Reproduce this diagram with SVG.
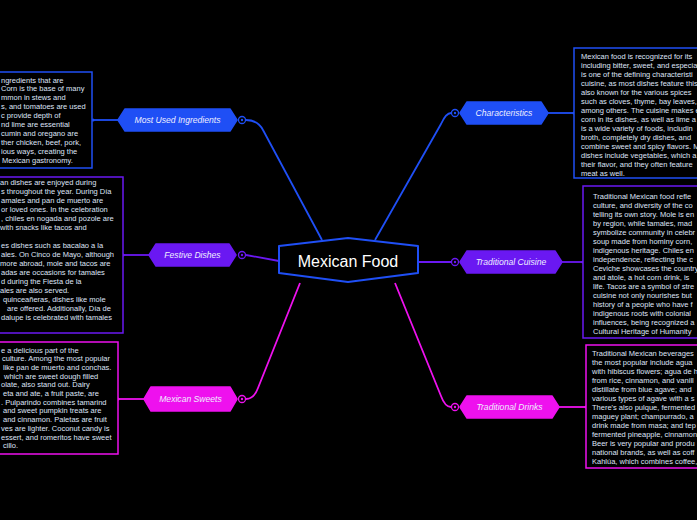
<svg xmlns="http://www.w3.org/2000/svg" width="697" height="520" viewBox="0 0 697 520">
<style>
.bt{font-family:"Liberation Sans",Arial,sans-serif;font-size:7.5px;fill:#dfe4f7}
.nt{font-family:"Liberation Sans",Arial,sans-serif;font-size:8.6px;font-style:italic;fill:#eeeeff;text-anchor:middle}
.box{fill:#000;stroke-width:1.5}
.c{fill:none;stroke-width:1.8}
.blue{stroke:#1f4ff5}
.pur{stroke:#6a18f2}
.mag{stroke:#ee11ee}
</style>
<rect width="697" height="520" fill="#000"/>
<g id="connectors">
<path class="c blue" d="M246,120 Q258,120 263,130 L322,240"/>
<path class="c blue" d="M375,240 L441,124 Q446,113 451,113"/>
<path class="c pur" d="M279,261 L246,255"/>
<path class="c pur" d="M418,262 L451,262"/>
<path class="c mag" d="M300,283 L258,388 Q254,399 246,399"/>
<path class="c mag" d="M395,283 L441,396 Q445,407 451,407"/>
<path class="c blue" d="M92,120 L118,120"/>
<path class="c pur" d="M123,255 L149,255"/>
<path class="c mag" d="M118,399 L144,399"/>
<path class="c blue" d="M548,113 L574,113"/>
<path class="c pur" d="M562,262 L583,262"/>
<path class="c mag" d="M559,407 L586,407"/>
<circle cx="93" cy="120" r="1.6" fill="#1f4ff5"/>
<circle cx="123" cy="255" r="1.6" fill="#6a18f2"/>
<circle cx="118" cy="399" r="1.6" fill="#ee11ee"/>
<circle cx="574" cy="113" r="1.6" fill="#1f4ff5"/>
<circle cx="583" cy="262" r="1.6" fill="#6a18f2"/>
<circle cx="586" cy="407" r="1.6" fill="#ee11ee"/>
</g>
<g id="center">
<path d="M279,246 L348,238 L418,246 L418,273 L348,282 L279,273 Z" fill="#000" stroke="#1f4ff5" stroke-width="2" stroke-linejoin="round"/>
<text x="348" y="267" font-family="Liberation Sans,Arial,sans-serif" font-size="16" fill="#fff" text-anchor="middle">Mexican Food</text>
</g>
<g id="n-ingredients">
<path d="M118,120 L125,109 L230,109 L237,120 L230,131 L125,131 Z" fill="#1f4ff5" stroke="#1f4ff5" stroke-width="1.5" stroke-linejoin="round"/>
<text class="nt" x="177.5" y="123">Most Used Ingredients</text>
<circle cx="242" cy="120" r="3.5" fill="#000" stroke="#1f4ff5" stroke-width="1.3"/><circle cx="242" cy="120" r="1.2" fill="#1f4ff5"/>
</g>
<g id="n-festive">
<path d="M149,255 L156,244 L229,244 L236,255 L229,266 L156,266 Z" fill="#6a18f2" stroke="#6a18f2" stroke-width="1.5" stroke-linejoin="round"/>
<text class="nt" x="192.5" y="258">Festive Dishes</text>
<circle cx="242" cy="255" r="3.5" fill="#000" stroke="#6a18f2" stroke-width="1.3"/><circle cx="242" cy="255" r="1.2" fill="#6a18f2"/>
</g>
<g id="n-sweets">
<path d="M144,399 L151,387 L230,387 L237,399 L230,411 L151,411 Z" fill="#ee11ee" stroke="#ee11ee" stroke-width="1.5" stroke-linejoin="round"/>
<text class="nt" x="190.5" y="402">Mexican Sweets</text>
<circle cx="242" cy="399" r="3.5" fill="#000" stroke="#ee11ee" stroke-width="1.3"/><circle cx="242" cy="399" r="1.2" fill="#ee11ee"/>
</g>
<g id="n-characteristics">
<path d="M460,113 L467,102 L541,102 L548,113 L541,124 L467,124 Z" fill="#1f4ff5" stroke="#1f4ff5" stroke-width="1.5" stroke-linejoin="round"/>
<text class="nt" x="504" y="116">Characteristics</text>
<circle cx="455" cy="113" r="3.5" fill="#000" stroke="#1f4ff5" stroke-width="1.3"/><circle cx="455" cy="113" r="1.2" fill="#1f4ff5"/>
</g>
<g id="n-cuisine">
<path d="M460,262 L467,251 L555,251 L562,262 L555,273 L467,273 Z" fill="#6a18f2" stroke="#6a18f2" stroke-width="1.5" stroke-linejoin="round"/>
<text class="nt" x="511" y="265">Traditional Cuisine</text>
<circle cx="455" cy="262" r="3.5" fill="#000" stroke="#6a18f2" stroke-width="1.3"/><circle cx="455" cy="262" r="1.2" fill="#6a18f2"/>
</g>
<g id="n-drinks">
<path d="M460,407 L467,396 L552,396 L559,407 L552,418 L467,418 Z" fill="#ee11ee" stroke="#ee11ee" stroke-width="1.5" stroke-linejoin="round"/>
<text class="nt" x="509.5" y="410">Traditional Drinks</text>
<circle cx="455" cy="407" r="3.5" fill="#000" stroke="#ee11ee" stroke-width="1.3"/><circle cx="455" cy="407" r="1.2" fill="#ee11ee"/>
</g>
<g id="t-ingredients">
<rect class="box blue" x="-10" y="72" width="102" height="96"/>
<text class="bt"><tspan x="1" y="82.5">ngredients that are</tspan><tspan x="1" y="91.4">Corn is the base of many</tspan><tspan x="1" y="100.3">mmon in stews and</tspan><tspan x="1" y="109.2">s, and tomatoes are used</tspan><tspan x="1" y="118.1">c provide depth of</tspan><tspan x="1" y="127">nd lime  are essential</tspan><tspan x="1" y="135.9">cumin and oregano are</tspan><tspan x="1" y="144.8">ther chicken, beef, pork,</tspan><tspan x="1" y="153.7">ious ways, creating the</tspan><tspan x="2" y="162.6">Mexican gastronomy.</tspan></text>
</g>
<g id="t-festive">
<rect class="box pur" x="-10" y="177" width="133" height="156"/>
<text class="bt"><tspan x="0" y="184.5">an dishes are enjoyed during</tspan><tspan x="1" y="193.5">s throughout the year. During Día</tspan><tspan x="1" y="202.5">amales and pan de muerto are</tspan><tspan x="1" y="211.5">or loved ones. In the celebration</tspan><tspan x="1" y="220.5">, chiles en nogada and pozole are</tspan><tspan x="0" y="229.5">with snacks like tacos and</tspan><tspan x="1" y="247.5">es dishes such as bacalao a la</tspan><tspan x="1" y="256.5">ales. On Cinco de Mayo, although</tspan><tspan x="0" y="265.5">more abroad, mole and tacos are</tspan><tspan x="1" y="274.5">adas are occasions for tamales</tspan><tspan x="1" y="283.5">d during the Fiesta de la</tspan><tspan x="0" y="292.5">ales are also served.</tspan><tspan x="3" y="301.5">quinceañeras, dishes like mole</tspan><tspan x="7" y="310.5">are offered. Additionally, Día de</tspan><tspan x="1" y="319.5">dalupe is celebrated with tamales</tspan></text>
</g>
<g id="t-sweets">
<rect class="box mag" x="-10" y="342" width="128" height="112"/>
<text class="bt"><tspan x="1" y="352.5">e a delicious part of the</tspan><tspan x="2" y="361.2">culture. Among the most popular</tspan><tspan x="3" y="369.9">like pan de muerto and conchas.</tspan><tspan x="4" y="378.6">which are sweet dough filled</tspan><tspan x="1" y="387.3">olate, also stand out. Dairy</tspan><tspan x="3" y="396">eta and ate, a fruit paste, are</tspan><tspan x="1" y="404.7">. Pulparindo combines tamarind</tspan><tspan x="3" y="413.4">and sweet pumpkin treats are</tspan><tspan x="3" y="422.1">and cinnamon. Paletas are fruit</tspan><tspan x="1" y="430.8">ves are lighter. Coconut candy is</tspan><tspan x="1" y="439.5">essert, and romeritos have sweet</tspan><tspan x="3" y="448.2">cillo.</tspan></text>
</g>
<g id="t-characteristics">
<rect class="box blue" x="574" y="48" width="140" height="130"/>
<text class="bt"><tspan x="581" y="58.5">Mexican food is recognized for its</tspan><tspan x="581" y="67.5">including bitter, sweet, and especia</tspan><tspan x="581" y="76.5">is one of the defining characteristi</tspan><tspan x="581" y="85.5">cuisine, as most dishes feature this</tspan><tspan x="581" y="94.5">also known for the various spices</tspan><tspan x="581" y="103.5">such as cloves, thyme, bay leaves,</tspan><tspan x="581" y="112.5">among others. The cuisine makes e</tspan><tspan x="581" y="121.5">corn in its dishes, as well as lime a</tspan><tspan x="581" y="130.5">is a wide variety of foods, includin</tspan><tspan x="581" y="139.5">broth, completely dry dishes, and</tspan><tspan x="581" y="148.5">combine sweet and spicy flavors. M</tspan><tspan x="581" y="157.5">dishes include vegetables, which a</tspan><tspan x="581" y="166.5">their flavor, and they often feature</tspan><tspan x="581" y="175.5">meat as well.</tspan></text>
</g>
<g id="t-cuisine">
<rect class="box pur" x="583" y="186" width="130" height="152"/>
<text class="bt"><tspan x="593" y="198.5">Traditional Mexican food refle</tspan><tspan x="593" y="207.5">culture, and diversity of the co</tspan><tspan x="593" y="216.5">telling its own story. Mole is en</tspan><tspan x="593" y="225.5">by region, while tamales, mad</tspan><tspan x="593" y="234.5">symbolize community in celebr</tspan><tspan x="593" y="243.5">soup made from hominy corn,</tspan><tspan x="593" y="252.5">indigenous heritage. Chiles en</tspan><tspan x="593" y="261.5">independence, reflecting the c</tspan><tspan x="593" y="270.5">Ceviche showcases the country</tspan><tspan x="593" y="279.5">and atole, a hot corn drink, is</tspan><tspan x="593" y="288.5">life. Tacos are a symbol of stre</tspan><tspan x="593" y="297.5">cuisine not only nourishes but</tspan><tspan x="593" y="306.5">history of a people who have f</tspan><tspan x="593" y="315.5">indigenous roots with colonial</tspan><tspan x="593" y="324.5">influences, being recognized a</tspan><tspan x="593" y="333.5">Cultural Heritage of Humanity</tspan></text>
</g>
<g id="t-drinks">
<rect class="box mag" x="586" y="345" width="130" height="123"/>
<text class="bt"><tspan x="592" y="355.5">Traditional Mexican beverages</tspan><tspan x="592" y="364.5">the most popular include agua</tspan><tspan x="592" y="373.5">with hibiscus flowers; agua de h</tspan><tspan x="592" y="382.5">from rice, cinnamon, and vanill</tspan><tspan x="592" y="391.5">distillate from blue agave; and</tspan><tspan x="592" y="400.5">various types of agave with a s</tspan><tspan x="592" y="409.5">There's also pulque, fermented</tspan><tspan x="592" y="418.5">maguey plant; champurrado, a</tspan><tspan x="592" y="427.5">drink made from masa; and tep</tspan><tspan x="592" y="436.5">fermented pineapple, cinnamon</tspan><tspan x="592" y="445.5">Beer is very popular and produ</tspan><tspan x="592" y="454.5">national brands, as well as coff</tspan><tspan x="592" y="463.5">Kahlúa, which combines coffee,</tspan></text>
</g>
</svg>
